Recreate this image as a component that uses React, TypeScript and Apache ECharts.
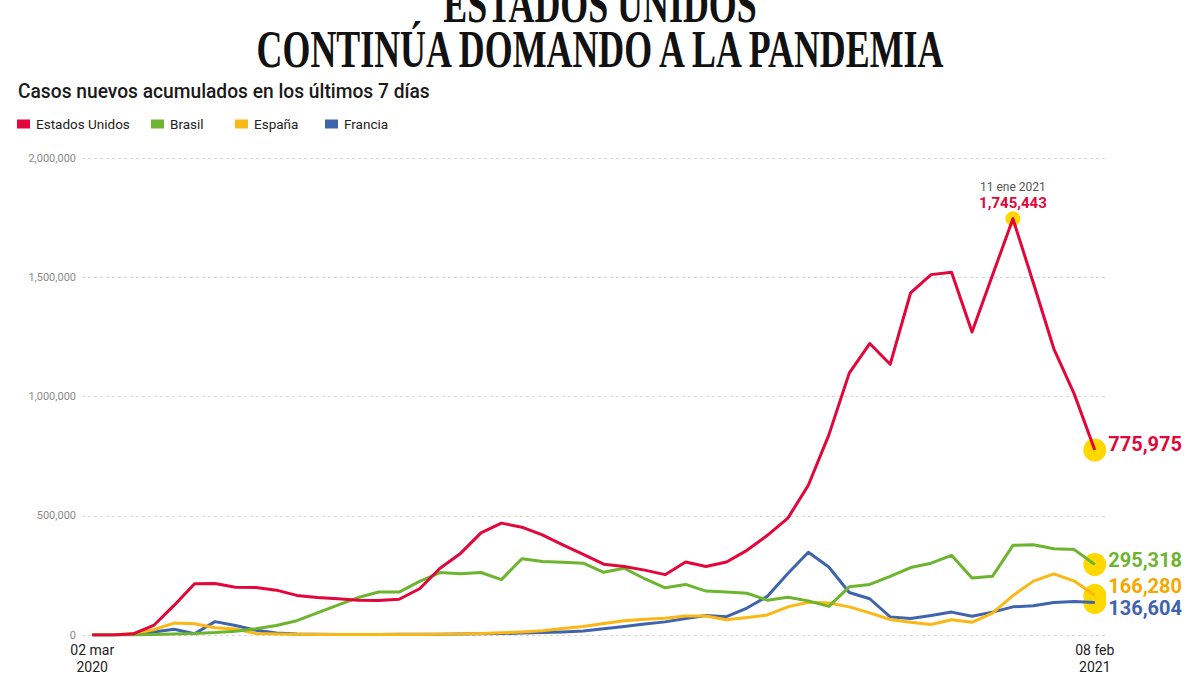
import React, { useEffect, useRef } from "react";
import * as echarts from "echarts";

const weeks = [
  "02 mar 2020", "09 mar 2020", "16 mar 2020", "23 mar 2020", "30 mar 2020",
  "06 abr 2020", "13 abr 2020", "20 abr 2020", "27 abr 2020", "04 may 2020",
  "11 may 2020", "18 may 2020", "25 may 2020", "01 jun 2020", "08 jun 2020",
  "15 jun 2020", "22 jun 2020", "29 jun 2020", "06 jul 2020", "13 jul 2020",
  "20 jul 2020", "27 jul 2020", "03 ago 2020", "10 ago 2020", "17 ago 2020",
  "24 ago 2020", "31 ago 2020", "07 sep 2020", "14 sep 2020", "21 sep 2020",
  "28 sep 2020", "05 oct 2020", "12 oct 2020", "19 oct 2020", "26 oct 2020",
  "02 nov 2020", "09 nov 2020", "16 nov 2020", "23 nov 2020", "30 nov 2020",
  "07 dic 2020", "14 dic 2020", "21 dic 2020", "28 dic 2020", "04 ene 2021",
  "11 ene 2021", "18 ene 2021", "25 ene 2021", "01 feb 2021", "08 feb 2021",
];

const estadosUnidos = [
  0, 500, 5000, 40000, 124000, 215000, 216000, 200000, 199000, 188000,
  166000, 157000, 152000, 146000, 145000, 150000, 194000, 280000, 342000, 428000,
  469000, 452000, 420000, 378000, 338000, 297000, 287000, 272000, 253000, 306000,
  287000, 306000, 355000, 418000, 490000, 628000, 838000, 1098000, 1222000, 1135000,
  1435000, 1511000, 1521000, 1270000, 1508000, 1745443, 1476000, 1200000, 1010000, 775975,
];

const brasil = [
  0, 0, 500, 2000, 4000, 6000, 10000, 16000, 26000, 40000,
  60000, 93000, 125000, 157000, 180000, 180000, 225000, 262000, 257000, 262000,
  232000, 320000, 308000, 305000, 301000, 263000, 280000, 236000, 198000, 212000,
  184000, 180000, 175000, 146000, 158000, 143000, 120000, 202000, 212000, 246000,
  283000, 301000, 334000, 239000, 246000, 376000, 378000, 362000, 358000, 295318,
];

const espana = [
  0, 500, 5000, 22000, 50000, 47000, 30000, 25000, 6000, 4000,
  3000, 2500, 2000, 2000, 2000, 2000, 2500, 3000, 4000, 6000,
  9000, 13000, 18000, 27000, 36000, 48000, 60000, 66000, 70000, 80000,
  80000, 64000, 73000, 84000, 118000, 137000, 134000, 118000, 93000, 65000,
  53000, 44000, 64000, 53000, 92000, 165000, 226000, 256000, 226000, 166280,
];

const francia = [
  0, 500, 3000, 13000, 24000, 5000, 56000, 40000, 20000, 8000,
  4000, 3000, 2500, 2500, 2500, 3000, 3000, 3500, 4000, 5000,
  6000, 8000, 10000, 13000, 17000, 26000, 36000, 46000, 55000, 69000,
  82000, 77000, 113000, 162000, 258000, 347000, 285000, 178000, 152000, 76000,
  69000, 82000, 96000, 79000, 96000, 118000, 123000, 136000, 140000, 136604,
];

const seriesNames = ["Estados Unidos", "Brasil", "España", "Francia"];
const lineColors = ["#E2063A", "#6DB42F", "#FBB713", "#3E64AE"];
const labelColors = ["#E2063A", "#6DB42F", "#F5A800", "#3E64AE"];
const peakIndex = 45;
const peakDate = "11 ene 2021";

const fmt = (v: number) => v.toLocaleString("en-US");

export default function App() {
  const ref = useRef<HTMLDivElement>(null);

  useEffect(() => {
    if (!ref.current) return;
    const chart = echarts.init(ref.current, null, { renderer: "svg" });
    const allData = [estadosUnidos, brasil, espana, francia];
    const last = weeks.length - 1;
    const endOffsets = [-6, -5, -9, 6];

    const lineSeries = allData.map((arr, k) => ({
      name: seriesNames[k],
      type: "line",
      data: arr.map((v, i) => [i, v]),
      showSymbol: false,
      symbol: "none",
      z: 3 + (3 - k) * 0.01,
      lineStyle: { width: 3, color: lineColors[k], join: "round" },
      itemStyle: { color: lineColors[k] },
    }));

    const markerData: any[] = allData.map((arr, k) => ({
      value: [last, arr[last]],
      symbolSize: 23,
      label: {
        show: true,
        position: "right",
        distance: 2,
        offset: [0, endOffsets[k]],
        formatter: (p: any) => fmt(p.value[1]),
        color: labelColors[k],
        fontSize: 20,
        fontWeight: "bold",
        fontFamily: "Roboto",
      },
    }));
    markerData.push({
      value: [peakIndex, estadosUnidos[peakIndex]],
      symbolSize: 15,
      label: {
        show: true,
        position: "top",
        distance: 0,
        formatter: () => `{a|${peakDate}}\n{b|${fmt(estadosUnidos[peakIndex])}}`,
        rich: {
          a: { fontSize: 12, color: "#555", lineHeight: 15, fontFamily: "Roboto" },
          b: { fontSize: 15, fontWeight: "bold", color: lineColors[0], lineHeight: 17, fontFamily: "Roboto" },
        },
      },
    });

    const legendBase = {
      icon: "rect",
      itemWidth: 13,
      itemHeight: 9,
      padding: 0,
      itemGap: 0,
      top: 117,
      selectedMode: false,
      textStyle: { fontSize: 13.5, color: "#222", fontFamily: "Roboto", padding: [0, 0, 0, 1] },
    };
    const legendLefts = [17, 151, 235, 325];

    const option: any = {
      animation: false,
      backgroundColor: "#ffffff",
      textStyle: { fontFamily: "Roboto" },
      legend: seriesNames.map((n, k) => ({ ...legendBase, data: [n], left: legendLefts[k] })),
      grid: { left: 82, right: 95, top: 158, bottom: 33, containLabel: false },
      xAxis: {
        type: "value",
        min: -0.5,
        max: 49.5,
        interval: 0.5,
        axisLine: { show: false },
        axisTick: { show: false },
        splitLine: { show: false },
        axisLabel: {
          margin: 6,
          fontSize: 14,
          lineHeight: 17,
          color: "#222",
          formatter: (v: number) => {
            if (v === 0 || v === last) {
              const s = weeks[v];
              const i = s.lastIndexOf(" ");
              return s.slice(0, i) + "\n" + s.slice(i + 1);
            }
            return "";
          },
        },
      },
      yAxis: {
        type: "value",
        min: 0,
        max: 2000000,
        interval: 500000,
        axisLine: { show: false },
        axisTick: { show: false },
        splitLine: { lineStyle: { type: [3, 3], color: "#d6d6d6", width: 1 } },
        axisLabel: {
          color: "#8a8a8a",
          fontSize: 11,
          margin: 6,
          padding: [0, 0, 6, 0],
          formatter: (v: number) => fmt(v),
        },
      },
      series: [
        ...lineSeries,
        {
          type: "scatter",
          z: 2,
          symbol: "circle",
          itemStyle: { color: "#FFD800", opacity: 1 },
          data: markerData,
          silent: true,
        },
      ],
      graphic: [
        {
          type: "text",
          x: 600,
          y: 5,
          scaleX: 0.69,
          style: {
            text: "ESTADOS UNIDOS",
            font: 'bold 52px "Liberation Serif"',
            fill: "#111",
            textAlign: "center",
            textVerticalAlign: "middle",
            align: "center",
            verticalAlign: "middle",
          },
        },
        {
          type: "text",
          x: 600,
          y: 50,
          scaleX: 0.69,
          style: {
            text: "CONTINÚA DOMANDO A LA PANDEMIA",
            font: 'bold 52px "Liberation Serif"',
            fill: "#111",
            textAlign: "center",
            textVerticalAlign: "middle",
            align: "center",
            verticalAlign: "middle",
          },
        },
        {
          type: "text",
          x: 18,
          y: 91,
          scaleX: 0.96,
          style: {
            text: "Casos nuevos acumulados en los últimos 7 días",
            font: '500 20px "Roboto"',
            fill: "#1a1a1a",
            textAlign: "left",
            textVerticalAlign: "middle",
            align: "left",
            verticalAlign: "middle",
          },
        },
      ],
    };

    chart.setOption(option);
    return () => chart.dispose();
  }, []);

  return (
    <div
      ref={ref}
      style={{ position: "fixed", left: 0, top: 0, width: 1200, height: 675, background: "#fff" }}
    />
  );
}
